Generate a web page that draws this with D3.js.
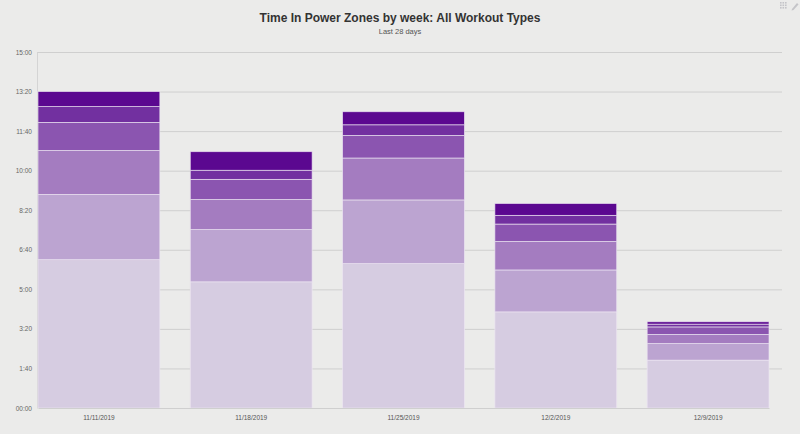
<!DOCTYPE html>
<html>
<head>
<meta charset="utf-8">
<script src="https://cdn.jsdelivr.net/npm/d3@7"></script>
<style>
  body { margin: 0; background: #ebebea; }
  svg { display: block; font-family: "Liberation Sans", Arial, sans-serif; }
</style>
</head>
<body>
<div id="chart"></div>
<script>
// weeks on x axis
const weeks = ['11/11/2019', '11/18/2019', '11/25/2019', '12/2/2019', '12/9/2019'];
// zones, bottom (easy) to top (hard)
const zones = ['Z1', 'Z2', 'Z3', 'Z4', 'Z5', 'Z6'];
// minutes per zone, one array per zone, one value per week
const z1 = [375, 319, 365, 243, 121];
const z2 = [165, 132, 161, 106, 42];
const z3 = [111, 76, 106, 72, 23];
const z4 = [71, 51, 57, 44, 19];
const z5 = [40, 23, 27, 22, 7];
const z6 = [38, 47, 33, 30, 6];
const yTicks = [0, 100, 200, 300, 400, 500, 600, 700, 800, 900];

const colors = ['#d6cce1', '#bca4d1', '#a47cc0', '#8b55b0', '#7230a0', '#5b0890'];

const W = 800, H = 434;
const margin = {top: 52, bottom: 26, left: 38, right: 31};

const rows = weeks.map((w, i) => ({
  week: w, Z1: z1[i], Z2: z2[i], Z3: z3[i], Z4: z4[i], Z5: z5[i], Z6: z6[i]
}));
const series = d3.stack().keys(zones)(rows);

const svg = d3.select('#chart').append('svg')
  .attr('width', W)
  .attr('height', H);

const x = d3.scaleBand()
  .domain(weeks)
  .range([margin.left, W - margin.right])
  .paddingInner(0.2)
  .paddingOuter(0);

const y = d3.scaleLinear()
  .domain([0, 900])
  .range([H - margin.bottom, margin.top]);

const fmt = v => v === 0 ? '00:00' : Math.floor(v / 60) + ':' + String(v % 60).padStart(2, '0');

// title
svg.append('text')
  .attr('x', W / 2).attr('y', 22)
  .attr('text-anchor', 'middle')
  .attr('font-size', 12).attr('font-weight', 'bold')
  .attr('fill', '#333')
  .text('Time In Power Zones by week: All Workout Types');
svg.append('text')
  .attr('x', W / 2).attr('y', 34)
  .attr('text-anchor', 'middle')
  .attr('font-size', 7.5)
  .attr('fill', '#555')
  .text('Last 28 days');

// grid
const grid = svg.append('g')
  .attr('transform', `translate(${margin.left - 1},0)`)
  .call(d3.axisRight(y).tickValues(yTicks.slice(1)).tickSize(W - 17 - margin.left).tickFormat(''));
grid.select('.domain').remove();
grid.selectAll('line').attr('stroke', '#cfcfcf').attr('stroke-width', 1);

// y axis
const yAxis = svg.append('g')
  .attr('transform', `translate(${margin.left - 1},0)`)
  .call(d3.axisLeft(y).tickValues(yTicks).tickSize(0).tickPadding(5).tickFormat(fmt));
yAxis.select('.domain').attr('stroke', '#d4d4d4');
yAxis.selectAll('text').attr('font-size', 6.5).attr('fill', '#666').attr('font-family', '"Liberation Sans", Arial, sans-serif');

// bars
svg.append('g')
  .selectAll('g')
  .data(series)
  .join('g')
    .attr('fill', (d, i) => colors[i])
  .selectAll('rect')
  .data(d => d)
  .join('rect')
    .attr('x', d => x(d.data.week))
    .attr('y', d => y(d[1]))
    .attr('width', x.bandwidth())
    .attr('height', d => y(d[0]) - y(d[1]))
    .attr('stroke', '#eee6f2')
    .attr('stroke-opacity', 0.8)
    .attr('stroke-width', 0.8);

// x axis
const xAxis = svg.append('g')
  .attr('transform', `translate(0,${H - margin.bottom})`)
  .call(d3.axisBottom(x).tickSize(0).tickPadding(7));
xAxis.select('.domain').attr('stroke', '#cfcfcf');
xAxis.selectAll('text').attr('font-size', 6.5).attr('fill', '#555').attr('font-family', '"Liberation Sans", Arial, sans-serif');

// toolbar icons top right
const icons = svg.append('g').attr('fill', '#c4c4c8');
[0, 1, 2].forEach(r => [0, 1, 2].forEach(c => {
  icons.append('rect').attr('x', 780 + c * 2.5).attr('y', 2 + r * 2.5).attr('width', 1.6).attr('height', 1.6);
}));
icons.append('path').attr('d', 'M792,9 L797,3 L798.5,4.5 L793.5,10 L791.5,10.5 Z');
</script>
</body>
</html>
